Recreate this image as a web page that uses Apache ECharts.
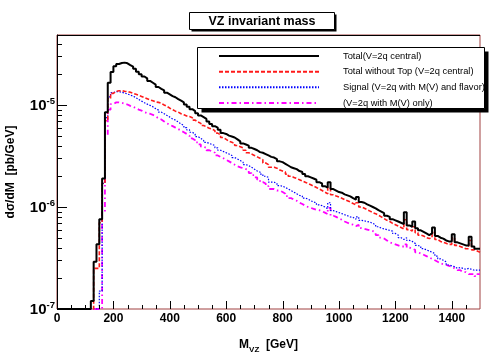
<!DOCTYPE html>
<html><head><meta charset="utf-8">
<script src="https://cdn.jsdelivr.net/npm/echarts@6/dist/echarts.min.js"></script>
<style>html,body{margin:0;padding:0;background:#fff}#c{width:498px;height:354px}</style>
</head><body><div id="c"></div>
<script>
// ---- data (bins of 10 GeV from 0 to 1500; values in units of 1e-6 pb/GeV) ----
const BIN_WIDTH = 10;
const X_MIN = 0, X_MAX = 1500;
const Y_MIN = 1e-7, Y_MAX = 4.85e-5;
const UNIT = 1e-6;
const titleText = 'VZ invariant mass';
const seriesNames = ['Total(V=2q central)', 'Total without Top (V=2q central)', 'Signal (V=2q with M(V) and flavor)', '(V=2q with M(V) only)'];
const xTickLabels = [0, 200, 400, 600, 800, 1000, 1200, 1400];
const yTickDecades = [-7, -6, -5];

const totalCentral = [
 0,0,0,0,0,0,0,0,0,0,
 0,0,0.12,0.29,0.43,0.76,1.9,8.5,16.5,21.0,
 24.0,25.2,25.8,26.0,25.6,24.6,23.8,22.6,21.2,20.0,
 19.0,18.2,17.2,16.5,15.8,15.0,14.4,13.9,13.2,12.7,
 12.2,11.9,11.4,11.0,10.6,10.1,9.6,9.1,8.7,8.3,
 7.9,7.6,7.3,6.9,6.5,6.2,6.0,5.7,5.3,5.2,
 5.0,4.9,4.8,4.6,4.4,4.2,4.1,4.0,3.8,3.7,
 3.6,3.45,3.4,3.3,3.2,3.1,3.05,2.95,2.8,2.75,
 2.65,2.55,2.45,2.4,2.35,2.25,2.2,2.1,2.0,1.95,
 1.9,1.85,1.75,1.7,1.6,1.55,1.75,1.5,1.45,1.4,
 1.38,1.33,1.3,1.27,1.22,1.18,1.25,1.12,1.1,1.06,
 1.03,1.0,0.97,0.93,0.9,0.87,0.82,0.8,0.76,0.74,
 0.72,0.7,0.68,0.89,0.66,0.64,0.72,0.62,0.59,0.57,
 0.55,0.53,0.55,0.63,0.52,0.5,0.49,0.47,0.46,0.46,
 0.54,0.45,0.44,0.43,0.42,0.42,0.51,0.41,0.39,0.39
];
const totalNoTop = [
 0,0,0,0,0,0,0,0,0,0,
 0,0,0,0.25,0.25,0.7,1.7,7.0,11.5,13.0,
 13.6,13.8,13.8,13.6,13.5,13.3,13.0,12.7,12.4,12.1,
 11.8,11.5,11.2,11.0,10.7,10.6,10.4,10.0,9.7,9.3,
 9.0,8.7,8.5,8.2,8.0,7.8,7.7,7.5,7.1,6.8,
 6.6,6.3,6.1,5.9,5.8,5.6,5.3,5.1,4.8,4.6,
 4.4,4.3,4.2,4.0,3.9,3.8,3.6,3.4,3.3,3.2,
 3.1,3.0,2.9,2.7,2.6,2.45,2.45,2.4,2.3,2.25,
 2.2,2.1,2.0,1.95,1.9,1.85,1.8,1.75,1.7,1.65,
 1.6,1.55,1.5,1.45,1.4,1.35,1.55,1.32,1.28,1.25,
 1.22,1.18,1.15,1.12,1.08,1.05,1.1,1.0,0.97,0.94,
 0.91,0.88,0.86,0.83,0.8,0.77,0.74,0.72,0.69,0.67,
 0.65,0.63,0.61,0.75,0.6,0.58,0.64,0.56,0.53,0.52,
 0.5,0.49,0.5,0.56,0.48,0.46,0.45,0.44,0.43,0.43,
 0.5,0.42,0.41,0.4,0.39,0.39,0.47,0.38,0.37,0.36
];
const signalFlavor = [
 0,0,0,0,0,0,0,0,0,0,
 0,0,0,0,0,0.15,1.7,7.5,12.0,13.2,
 13.5,13.5,13.3,13.1,12.8,12.5,12.2,11.8,11.3,10.9,
 10.5,10.2,9.9,9.6,9.2,8.9,8.5,8.2,7.9,7.6,
 7.3,7.1,6.8,6.5,6.3,6.0,5.7,5.4,5.2,4.9,
 4.7,4.5,4.3,4.2,4.1,4.0,3.8,3.6,3.5,3.4,
 3.3,3.2,3.05,2.95,2.85,2.75,2.6,2.55,2.45,2.35,
 2.25,2.2,2.1,2.0,1.95,1.75,1.75,1.7,1.62,1.6,
 1.55,1.5,1.45,1.4,1.35,1.3,1.28,1.22,1.2,1.15,
 1.12,1.1,1.05,1.03,1.0,0.96,1.1,0.92,0.9,0.88,
 0.86,0.84,0.82,0.8,0.79,0.76,0.8,0.74,0.73,0.72,
 0.71,0.69,0.67,0.64,0.62,0.61,0.6,0.59,0.58,0.55,
 0.53,0.5,0.48,0.5,0.47,0.46,0.44,0.42,0.41,0.39,
 0.38,0.37,0.36,0.35,0.33,0.31,0.3,0.29,0.27,0.265,
 0.26,0.25,0.255,0.25,0.245,0.25,0.245,0.24,0.24,0.24
];
const massOnly = [
 0,0,0,0,0,0,0,0,0,0,
 0,0,0,0,0,0,0.9,5.0,9.0,10.2,
 10.6,10.6,10.5,10.3,10.1,9.8,9.6,9.3,9.0,8.8,
 8.5,8.3,8.2,8.0,7.7,7.4,7.2,6.9,6.6,6.4,
 6.2,6.0,5.8,5.6,5.4,5.2,5.0,4.7,4.5,4.3,
 4.1,3.9,3.8,3.6,3.5,3.4,3.2,3.1,3.0,2.9,
 2.8,2.7,2.6,2.5,2.45,2.4,2.35,2.3,2.15,2.05,
 1.95,1.85,1.75,1.7,1.6,1.5,1.5,1.45,1.45,1.4,
 1.35,1.28,1.22,1.18,1.15,1.1,1.07,1.03,1.0,0.98,
 0.96,0.94,0.93,0.91,0.88,0.85,0.98,0.82,0.8,0.77,
 0.75,0.72,0.7,0.68,0.67,0.65,0.67,0.62,0.61,0.6,
 0.59,0.58,0.56,0.53,0.5,0.49,0.47,0.45,0.44,0.43,
 0.42,0.41,0.41,0.43,0.4,0.39,0.38,0.36,0.35,0.34,
 0.33,0.32,0.31,0.3,0.29,0.28,0.275,0.27,0.265,0.26,
 0.25,0.24,0.24,0.23,0.23,0.22,0.22,0.22,0.21,0.22
];

// ---- build ----
const FONT = "'Liberation Sans', Arial, Helvetica, sans-serif";
function toSteps(vals) {
  const pts = vals.map((v, i) => [X_MIN + i * BIN_WIDTH, Math.max(v * UNIT, Y_MIN)]);
  pts.push([X_MIN + vals.length * BIN_WIDTH, pts[pts.length - 1][1]]);
  return pts;
}
const styles = [
  {color: '#000000', width: 2, type: 'solid'},
  {color: '#ff1a1a', width: 1.6, type: [4, 2]},
  {color: '#0000ff', width: 1.2, type: [1.5, 1.5]},
  {color: '#ff00ff', width: 1.8, type: [5, 3, 1.5, 3]}
];
const allData = [totalCentral, totalNoTop, signalFlavor, massOnly];

const chart = echarts.init(document.getElementById('c'), null, {renderer: 'canvas'});
const option = {
  animation: false,
  backgroundColor: '#ffffff',
  grid: {left: 57, right: 18, top: 35, bottom: 45, show: true, borderColor: '#a04040', borderWidth: 1,
         backgroundColor: 'transparent', containLabel: false, outerBoundsMode: 'none'},
  xAxis: {
    type: 'value', min: X_MIN, max: X_MAX, interval: 200,
    splitLine: {show: false}, axisTick: {show: false},
    axisLine: {show: false},
    axisLabel: {
      margin: 4, color: '#000', fontFamily: FONT, fontSize: 12, fontWeight: 'bold',
      formatter: v => (xTickLabels.indexOf(v) >= 0 ? String(v) : '')
    },
    name: '{m|M}{s|VZ}{m|  [GeV]}', nameLocation: 'middle', nameGap: 30,
    nameTextStyle: {
      rich: {
        m: {fontFamily: FONT, fontSize: 12, fontWeight: 'bold', color: '#000', verticalAlign: 'bottom', padding: [0, 0, 3, 0]},
        s: {fontFamily: FONT, fontSize: 8, fontWeight: 'bold', color: '#000', verticalAlign: 'bottom'}
      }
    }
  },
  yAxis: {
    type: 'log', logBase: 10, min: Y_MIN, max: Y_MAX,
    splitLine: {show: false}, axisTick: {show: false},
    axisLine: {show: true, lineStyle: {color: '#000', width: 1}},
    axisLabel: {
      margin: 2,
      formatter: v => {
        const e = Math.log10(v), r = Math.round(e);
        if (Math.abs(e - r) > 1e-6 || yTickDecades.indexOf(r) < 0) return '';
        return '{b|10}{s|' + r + '}';
      },
      rich: {
        b: {fontFamily: FONT, fontSize: 15, fontWeight: 'bold', color: '#000', verticalAlign: 'bottom'},
        s: {fontFamily: FONT, fontSize: 9.5, fontWeight: 'bold', color: '#000', verticalAlign: 'bottom', padding: [0, 0, 7, 0]}
      }
    },
    name: 'd\u03c3/dM  [pb/GeV]', nameLocation: 'middle', nameGap: 40, nameRotate: 90,
    nameTextStyle: {fontFamily: FONT, fontSize: 12, fontWeight: 'bold', color: '#000'}
  },
  legend: {
    show: true, orient: 'vertical', left: 218, top: 51, padding: 0,
    itemWidth: 100, itemHeight: 10, itemGap: 5.67, selectedMode: false,
    itemStyle: {opacity: 0},
    textStyle: {fontFamily: FONT, fontSize: 9.3, color: '#000', lineHeight: 10, padding: [0, 0, 0, 19]},
    data: seriesNames, z: 10
  },
  series: allData.map((vals, k) => ({
    name: seriesNames[k], type: 'line', step: 'end', symbol: 'none', showSymbol: false,
    data: toSteps(vals), z: 2 + (3 - k) * 0.1,
    lineStyle: {color: styles[k].color, width: styles[k].width, type: styles[k].type},
    itemStyle: {color: styles[k].color}
  }))
};
chart.setOption(option);

// ---- decorations: ticks (via the axes' own scales), title box, legend box ----
const g = [];
function px(x, y) { return chart.convertToPixel({xAxisIndex: 0, yAxisIndex: 0}, [x, y]); }
const bottomPx = px(X_MIN, Y_MIN)[1];
const topPx = px(X_MIN, Y_MAX)[1];
const leftPx = px(X_MIN, Y_MIN)[0];
const rightPx = px(X_MAX, Y_MIN)[0];
for (let v = X_MIN + 50; v < X_MAX; v += 50) {
  const x = Math.round(px(v, Y_MIN)[0]) + 0.5;
  const len = (v % 200 === 0) ? 8 : 4;
  g.push({type: 'line', z: 5, silent: true, shape: {x1: x, y1: bottomPx, x2: x, y2: bottomPx - len}, style: {stroke: '#000', lineWidth: 1}});
}
for (const d of [-7, -6, -5]) {
  for (let m = 1; m <= 9; m++) {
    const v = m * Math.pow(10, d);
    if (v <= Y_MIN * 1.0001 || v >= Y_MAX) continue;
    const y = Math.round(px(X_MIN, v)[1]) + 0.5;
    const len = (m === 1) ? 10 : 5;
    g.push({type: 'line', z: 5, silent: true, shape: {x1: leftPx, y1: y, x2: leftPx + len, y2: y}, style: {stroke: '#000', lineWidth: 1}});
  }
}
// top frame line (black)
g.push({type: 'line', z: 5, silent: true, shape: {x1: leftPx, y1: Math.round(topPx) + 0.5, x2: rightPx, y2: Math.round(topPx) + 0.5}, style: {stroke: '#000', lineWidth: 1}});
// title box
g.push({type: 'rect', z: 6, silent: true, shape: {x: 191.5, y: 14.5, width: 145, height: 17}, style: {fill: '#000'}});
g.push({type: 'rect', z: 7, silent: true, shape: {x: 189.5, y: 12.5, width: 145, height: 17}, style: {fill: '#fff', stroke: '#000', lineWidth: 1}});
g.push({type: 'text', z: 8, silent: true, x: 262, y: 21.5, style: {text: titleText, fill: '#000', font: 'bold 12.5px ' + FONT, align: 'center', verticalAlign: 'middle'}});
// legend box
g.push({type: 'rect', z: 6, silent: true, shape: {x: 201.5, y: 51.5, width: 287, height: 61}, style: {fill: '#000'}});
g.push({type: 'rect', z: 7, silent: true, shape: {x: 197.5, y: 47.5, width: 287, height: 61}, style: {fill: '#fff', stroke: '#000', lineWidth: 1}});
chart.setOption({graphic: {elements: g}});
</script>
</body></html>
